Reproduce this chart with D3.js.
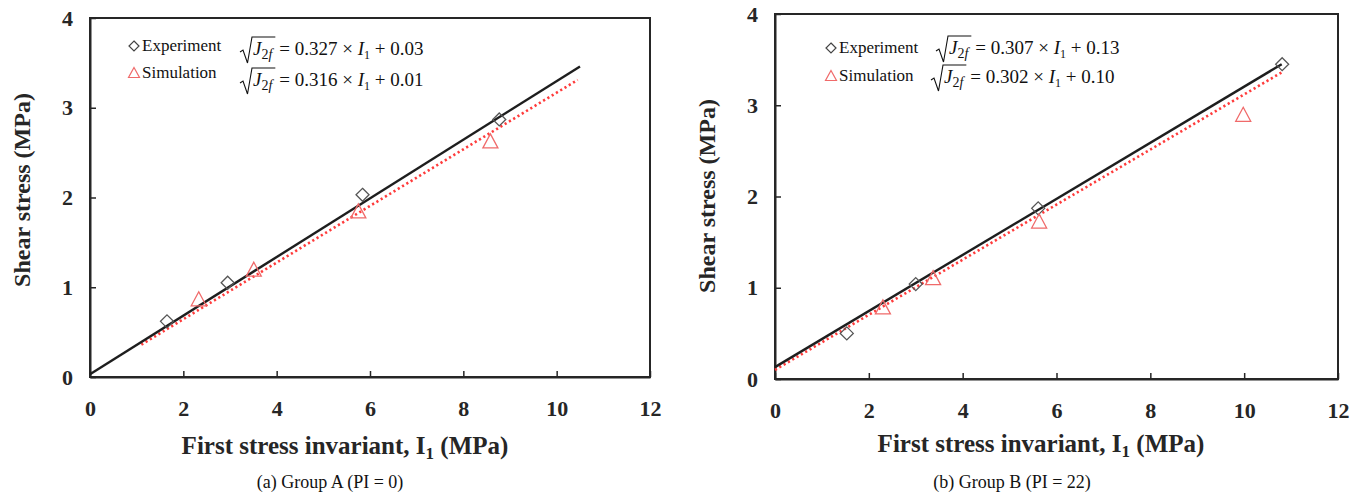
<!DOCTYPE html>
<html><head><meta charset="utf-8">
<script src="https://cdn.jsdelivr.net/npm/d3@7"></script>
<style>
body{margin:0;background:#fff;}
svg text{font-family:"Times New Roman","Liberation Serif",serif !important;}
</style></head>
<body><svg id="c" width="1370" height="500"></svg>
<script>
// ---- data ----
const xTicks = [0,2,4,6,8,10,12];
const yTicks = [0,1,2,3,4];
// Group A
const expA_x = [1.65, 2.95, 5.84, 8.77];
const expA_y = [0.62, 1.05, 2.03, 2.87];
const simA_x = [2.33, 3.51, 5.75, 8.58];
const simA_y = [0.86, 1.19, 1.84, 2.62];
const fitExpA = [[0, 0.03], [10.5, 3.46]];
const fitSimA = [[1.1, 0.36], [10.45, 3.31]];
const eqA = ["0.327", "0.03", "0.316", "0.01"];
// Group B
const expB_x = [1.53, 3.0, 5.61, 10.81];
const expB_y = [0.50, 1.04, 1.87, 3.45];
const simB_x = [2.3, 3.37, 5.63, 9.98];
const simB_y = [0.78, 1.10, 1.72, 2.89];
const fitExpB = [[0, 0.13], [10.8, 3.45]];
const fitSimB = [[0, 0.10], [10.8, 3.36]];
const eqB = ["0.307", "0.13", "0.302", "0.10"];

const svg = d3.select("#c");
const ink = "#262626";

function panel(cfg){
  const g = svg.append("g");
  const x = d3.scaleLinear().domain([0,12]).range([cfg.x0, cfg.x1]);
  const y = d3.scaleLinear().domain([0,4]).range([cfg.y0, cfg.y1]);
  g.append("rect").attr("x",cfg.x0).attr("y",cfg.y1).attr("width",cfg.x1-cfg.x0).attr("height",cfg.y0-cfg.y1)
    .attr("fill","none").attr("stroke",ink).attr("stroke-width",2);
  const xa = g.append("g").attr("transform",`translate(0,${cfg.y0})`)
    .call(d3.axisBottom(x).tickValues(xTicks).tickSizeInner(-6).tickSizeOuter(0).tickPadding(23).tickFormat(d3.format("d")));
  const ya = g.append("g").attr("transform",`translate(${cfg.x0},0)`)
    .call(d3.axisLeft(y).tickValues(yTicks).tickSizeInner(-6).tickSizeOuter(0).tickPadding(17).tickFormat(d3.format("d")));
  [xa,ya].forEach(a=>{
    a.attr("font-family",null).attr("font-size",null);
    a.select(".domain").attr("stroke",ink).attr("stroke-width",2);
    a.selectAll(".tick line").attr("stroke",ink).attr("stroke-width",1.5);
    a.selectAll(".tick text").attr("fill",ink).style("font-size","22px").style("font-weight","bold");
  });
  const line = d3.line().x(d=>x(d[0])).y(d=>y(d[1]));
  g.append("path").attr("d",line(cfg.fitSim)).attr("fill","none").attr("stroke","#ff3b3b")
    .attr("stroke-width",2.6).attr("stroke-dasharray","2.2,2.8");
  g.append("path").attr("d",line(cfg.fitExp)).attr("fill","none").attr("stroke","#1e1e1e").attr("stroke-width",2.4);
  const diamondPath = "M0,-6.5L6.5,0L0,6.5L-6.5,0Z";
  const triPath = "M0,-8L7.5,6L-7.5,6Z";
  const ex = cfg.ex.map((v,i)=>[v,cfg.ey[i]]);
  const sm = cfg.sx.map((v,i)=>[v,cfg.sy[i]]);
  g.selectAll(".dm").data(ex).enter().append("path").attr("d",diamondPath)
    .attr("transform",d=>`translate(${x(d[0])},${y(d[1])})`).attr("fill","none").attr("stroke","#555").attr("stroke-width",1.3);
  g.selectAll(".tr").data(sm).enter().append("path").attr("d",triPath)
    .attr("transform",d=>`translate(${x(d[0])},${y(d[1])})`).attr("fill","none").attr("stroke","#f06a6a").attr("stroke-width",1.3);
  g.append("text").attr("x",cfg.xtX).attr("y",cfg.xtY).attr("text-anchor","middle").attr("fill",ink)
    .style("font-size","25px").style("font-weight","bold").call(t=>{
      t.append("tspan").text("First stress invariant, I");
      t.append("tspan").attr("dy",5).style("font-size","17px").text("1");
      t.append("tspan").attr("dy",-5).text(cfg.gap+"(MPa)");
    });
  g.append("text").attr("transform",`translate(${cfg.ytX},${cfg.ytY}) rotate(-90)`).attr("text-anchor","middle")
    .attr("fill",ink).style("font-size","24px").style("font-weight","bold").text("Shear stress (MPa)");
  g.append("text").attr("x",cfg.capX).attr("y",488).attr("text-anchor","middle").attr("fill","#111")
    .style("font-size","18px").text(cfg.caption);
  const L = cfg.leg;
  g.append("path").attr("d","M0,-5L5,0L0,5L-5,0Z").attr("transform",`translate(${L.x},${L.y1-5})`)
    .attr("fill","none").attr("stroke","#444").attr("stroke-width",1.2);
  g.append("path").attr("d","M0,-5.5L5.5,4.5L-5.5,4.5Z").attr("transform",`translate(${L.x},${L.y2-5})`)
    .attr("fill","none").attr("stroke","#f06a6a").attr("stroke-width",1.2);
  g.append("text").attr("x",L.x+8).attr("y",L.y1).attr("fill","#111").style("font-size","17px").text("Experiment");
  g.append("text").attr("x",L.x+8).attr("y",L.y2).attr("fill","#111").style("font-size","17px").text("Simulation");
  equation(g, L.e1x, L.e1y, cfg.eq[0], cfg.eq[1]);
  equation(g, L.e2x, L.e2y, cfg.eq[2], cfg.eq[3]);
}

function equation(g, x0, yb, slope, icpt){
  const fs = 19;
  const eg = g.append("g").attr("transform",`translate(${x0},${yb})`).attr("fill","#111");
  const jt = eg.append("text").attr("x",14).attr("y",0).style("font-size",fs+"px");
  jt.append("tspan").style("font-style","italic").text("J");
  jt.append("tspan").attr("dy",4).style("font-size","14px").text("2");
  jt.append("tspan").style("font-size","14px").style("font-style","italic").text("f");
  const w = jt.node().getComputedTextLength();
  const end = 14 + w + 3;
  eg.append("path").attr("d",`M1,-3L4,-5L8.5,8L13,-18L${end},-18`).attr("fill","none").attr("stroke","#111").attr("stroke-width",1.1);
  const rt = eg.append("text").attr("x",end+4).attr("y",0).style("font-size",fs+"px");
  rt.append("tspan").text("= " + slope + " × ");
  rt.append("tspan").style("font-style","italic").text("I");
  rt.append("tspan").attr("dy",4).style("font-size","12px").text("1");
  rt.append("tspan").attr("dy",-4).text(" + " + icpt);
}

panel({x0:90,x1:650,y0:377,y1:18,ex:expA_x,ey:expA_y,sx:simA_x,sy:simA_y,fitExp:fitExpA,fitSim:fitSimA,
  xtX:345,xtY:454,ytX:30,ytY:190,gap:" ",capX:330,caption:"(a) Group A (PI = 0)",eq:eqA,
  leg:{x:134,y1:51,y2:78,e1x:239,e1y:55,e2x:239,e2y:86}});
panel({x0:775,x1:1338,y0:379,y1:14,ex:expB_x,ey:expB_y,sx:simB_x,sy:simB_y,fitExp:fitExpB,fitSim:fitSimB,
  xtX:1041,xtY:452,ytX:715,ytY:196,gap:"  ",capX:1012,caption:"(b) Group B (PI = 22)",eq:eqB,
  leg:{x:831,y1:53,y2:81,e1x:935,e1y:54,e2x:930,e2y:83}});
</script></body></html>
